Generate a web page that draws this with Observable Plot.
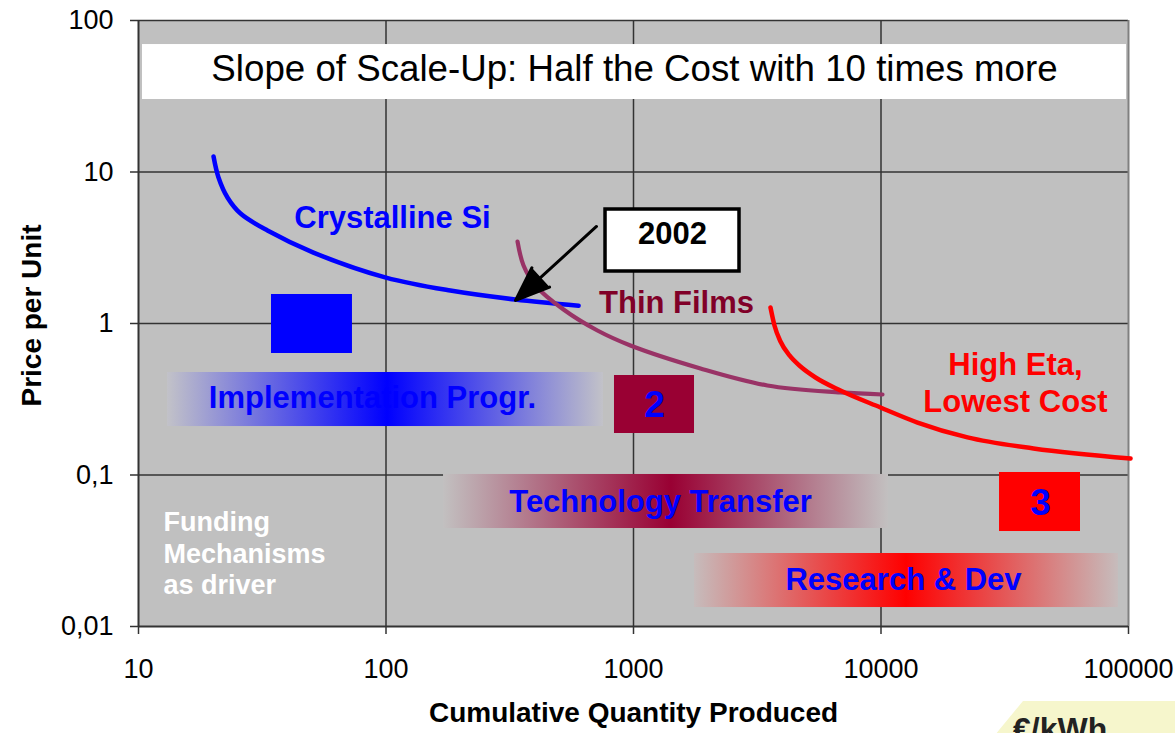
<!DOCTYPE html>
<html>
<head>
<meta charset="utf-8">
<script src="https://cdn.jsdelivr.net/npm/d3@7"></script>
<script src="https://cdn.jsdelivr.net/npm/@observablehq/plot@0.6"></script>
<style>
  body { margin: 0; background: #fff; font-family: "Liberation Sans", Arial, sans-serif; }
  #wrap { position: relative; width: 1175px; height: 733px; overflow: hidden; }
  #unit { position: absolute; left: 990px; top: 701px; width: 200px; height: 40px; background: #f6f6cc;
          clip-path: polygon(33px 0, 100% 0, 100% 100%, 0 100%); }
  #unit span { position: absolute; left: 23px; top: 10px; font: bold 32px "Liberation Sans", Arial, sans-serif; color: #222; }
</style>
</head>
<body>
<svg width="0" height="0" style="position:absolute">
  <defs>
    <linearGradient id="gImpl" x1="0" y1="0" x2="1" y2="0">
      <stop offset="0" stop-color="#c2c2c8"/>
      <stop offset="0.505" stop-color="#0000ff"/>
      <stop offset="1" stop-color="#c2c2c8"/>
    </linearGradient>
    <linearGradient id="gTech" x1="0" y1="0" x2="1" y2="0">
      <stop offset="0" stop-color="#c2c0c0"/>
      <stop offset="0.512" stop-color="#990033"/>
      <stop offset="1" stop-color="#c2c0c0"/>
    </linearGradient>
    <linearGradient id="gRD" x1="0" y1="0" x2="1" y2="0">
      <stop offset="0" stop-color="#c6bcbc"/>
      <stop offset="0.5" stop-color="#ff0000"/>
      <stop offset="1" stop-color="#c6bcbc"/>
    </linearGradient>
  </defs>
</svg>
<div id="wrap"><div id="unit"><span>€/kWh</span></div></div>
<script>
// ---- axes ----
const xTicks = [10, 100, 1000, 10000, 100000];
const xTickLabels = ["10", "100", "1000", "10000", "100000"];
const yTicks = [100, 10, 1, 0.1, 0.01];
const yTickLabels = ["100", "10", "1", "0,1", "0,01"];
const xTitle = "Cumulative Quantity Produced";
const yTitle = "Price per Unit";

// ---- learning curves ----
const crystallineX = [20.1, 21.05, 22.88, 25.84, 33.2, 50.9, 100, 182, 333, 600];
const crystallineY = [12.66, 9.2, 6.79, 5.32, 4.11, 2.94, 2.01, 1.65, 1.44, 1.31];
const thinFilmX = [340, 359.5, 401.8, 521.5, 715, 972, 1865, 3475, 6855, 10140];
const thinFilmY = [3.47, 2.414, 1.781, 1.237, 0.899, 0.716, 0.505, 0.39, 0.351, 0.34];
const highEtaX = [3577, 3712, 3926, 4269, 4729, 5438, 6855, 9950, 14050, 22360, 41300, 101900];
const highEtaY = [1.275, 0.970, 0.7607, 0.615, 0.5201, 0.4401, 0.361, 0.279, 0.222, 0.177, 0.1496, 0.1285];

// ---- annotations (data units) ----
const titleText = "Slope of Scale-Up: Half the Cost with 10 times more";
const titleBox = {x1: 10.38, x2: 98170, y1: 30.1, y2: 69.4, tx: 1009, ty: 47.86};

const bandNames = ["Implementation Progr.", "Technology Transfer", "Research & Dev"];
const bandX1 = [13.1, 170.8, 1764];
const bandX2 = [756.6, 10723, 91100];
const bandYTop = [0.4749, 0.1008, 0.03033];
const bandYBottom = [0.2089, 0.04434, 0.01334];
const bandLabelX = [88.2, 1286, 12330];
const bandLabelY = [0.3199, 0.0658, 0.0201];
const bandGradient = ["url(#gImpl)", "url(#gTech)", "url(#gRD)"];

const stageLabels = ["", "2", "3"];
const stageX1 = [34.46, 837.9, 30120];
const stageX2 = [73.2, 1764, 63980];
const stageYTop = [1.554, 0.4537, 0.1039];
const stageYBottom = [0.6339, 0.1879, 0.04236];
const stageLabelX = [50, 1216, 44110];
const stageLabelY = [1, 0.2875, 0.06486];
const stageColor = ["#0000ff", "#990033", "#ff0000"];

const yearText = "2002";
const yearBox = {x1: 770.8, x2: 2681, y1: 2.204, y2: 5.655, tx: 1438, ty: 3.868};
const arrowRow = {x1: 708.7, y1: 4.37, x2: 333.7, y2: 1.419};

const seriesLabels = [
  {text: "Crystalline Si", x: 106.2, y: 5.16, color: "#0000ff"},
  {text: "Thin Films", x: 1492, y: 1.419, color: "#800028"},
  {text: "High Eta,\nLowest Cost", x: 34950, y: 0.4143, color: "#ff0000"}
];
const fundingText = "Funding\nMechanisms\nas driver";
const fundingPos = {x: 12.62, y: 0.03079};

// ---- tables ----
const toRows = (xs, ys) => xs.map((x, i) => ({x, y: ys[i]}));
const crystalline = toRows(crystallineX, crystallineY);
const thinFilm = toRows(thinFilmX, thinFilmY);
const highEta = toRows(highEtaX, highEtaY);
const bands = bandNames.map((name, i) => ({name, x1: bandX1[i], x2: bandX2[i], y1: bandYTop[i], y2: bandYBottom[i], lx: bandLabelX[i], ly: bandLabelY[i]}));
const stages = stageLabels.map((name, i) => ({name, x1: stageX1[i], x2: stageX2[i], y1: stageYTop[i], y2: stageYBottom[i], lx: stageLabelX[i], ly: stageLabelY[i]}));

const FONT = "Liberation Sans, Arial, sans-serif";
const BOLD = 31;

const chart = Plot.plot({
  width: 1175,
  height: 733,
  marginLeft: 138,
  marginRight: 47,
  marginTop: 20,
  marginBottom: 107,
  style: {fontFamily: FONT, background: "white", color: "black", overflow: "visible"},
  x: {type: "log", domain: [10, 100000]},
  y: {type: "log", domain: [0.01, 100]},
  marks: [
    Plot.frame({fill: "#c0c0c0", stroke: null}),
    Plot.gridX([100, 1000, 10000], {stroke: "#333", strokeOpacity: 1, strokeWidth: 1.5}),
    Plot.gridY([100, 10, 1, 0.1], {stroke: "#333", strokeOpacity: 1, strokeWidth: 1.5}),
    Plot.ruleX([100000], {stroke: "#808080", strokeWidth: 2}),
    Plot.ruleX([10], {stroke: "#333", strokeWidth: 2}),
    Plot.ruleY([0.01], {stroke: "#333", strokeWidth: 2}),
    Plot.axisX(xTicks, {tickFormat: d => xTickLabels[xTicks.indexOf(d)], tickSize: 8, tickPadding: 24, fontSize: 27, stroke: "#333", strokeWidth: 1.5, label: null}),
    Plot.axisY(yTicks, {tickFormat: d => yTickLabels[yTicks.indexOf(d)], tickSize: 8, tickPadding: 17, fontSize: 27, stroke: "#333", strokeWidth: 1.5, label: null}),
    Plot.text([xTitle], {frameAnchor: "bottom", dy: 95, fontSize: 28, fontWeight: "bold", fill: "black"}),
    Plot.text([yTitle], {frameAnchor: "left", textAnchor: "middle", dx: -106, dy: -8, rotate: -90, fontSize: 28, fontWeight: "bold", fill: "black"}),

    // title box
    Plot.rect([titleBox], {x1: "x1", x2: "x2", y1: "y1", y2: "y2", fill: "white"}),
    Plot.text([titleBox], {x: "tx", y: "ty", text: () => titleText, fontSize: 36.7, fill: "black"}),

    // gradient bands
    ...bands.map((b, i) => Plot.rect([b], {x1: "x1", x2: "x2", y1: "y1", y2: "y2", fill: bandGradient[i]})),
    ...bands.map(b => Plot.text([b], {x: "lx", y: "ly", text: "name", fontSize: BOLD, fontWeight: "bold", fill: "#0000ff"})),

    // stage squares
    ...stages.map((s, i) => Plot.rect([s], {x1: "x1", x2: "x2", y1: "y1", y2: "y2", fill: stageColor[i]})),
    Plot.text(stages.filter(s => s.name), {x: "lx", y: "ly", text: "name", fontSize: 37, fontWeight: "bold", fill: "#0000ff"}),

    // curves
    Plot.line(crystalline, {x: "x", y: "y", stroke: "#0000ff", strokeWidth: 4.5, curve: "catmull-rom", strokeLinecap: "round"}),
    Plot.line(thinFilm, {x: "x", y: "y", stroke: "#993366", strokeWidth: 4.2, curve: "catmull-rom", strokeLinecap: "round"}),
    Plot.line(highEta, {x: "x", y: "y", stroke: "#ff0000", strokeWidth: 4.5, curve: "monotone-x", strokeLinecap: "round"}),

    // 2002 callout
    Plot.arrow([arrowRow], {x1: "x1", y1: "y1", x2: "x2", y2: "y2", stroke: "black", fill: "black", strokeWidth: 3, headLength: 24, headAngle: 42}),
    Plot.rect([yearBox], {x1: "x1", x2: "x2", y1: "y1", y2: "y2", fill: "white", stroke: "black", strokeWidth: 3.5}),
    Plot.text([yearBox], {x: "tx", y: "ty", text: () => yearText, fontSize: BOLD, fontWeight: "bold", fill: "black"}),

    // series labels
    ...seriesLabels.map(l => Plot.text([l], {x: "x", y: "y", text: "text", fontSize: BOLD, fontWeight: "bold", fill: l.color, lineHeight: 1.22})),
    Plot.text([fundingPos], {x: "x", y: "y", text: () => fundingText, textAnchor: "start", fontSize: 27, fontWeight: "bold", fill: "white", lineHeight: 1.17})
  ]
});
document.getElementById("wrap").prepend(chart);
</script>
</body>
</html>
